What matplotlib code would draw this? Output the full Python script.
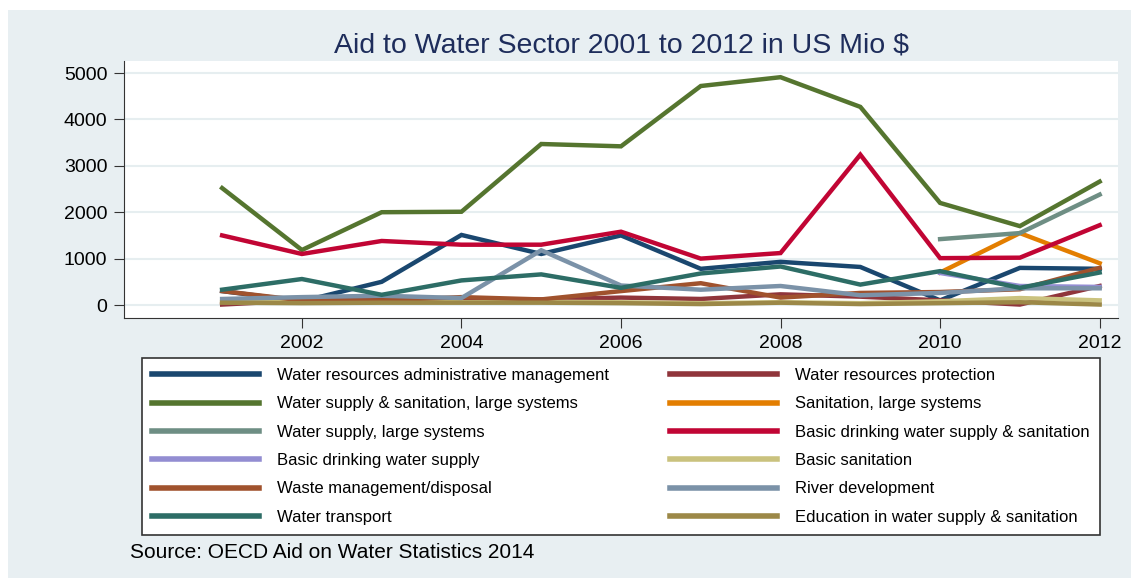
import numpy as np
import matplotlib.pyplot as plt
from matplotlib.patches import Rectangle

plt.rcParams['font.family'] = ['Liberation Sans', 'DejaVu Sans']

years = list(range(2001, 2013))
yrs_late = [2010, 2011, 2012]

# values in US Mio $
wr_admin = [300, 80, 500, 1510, 1100, 1500, 780, 930, 820, 100, 800, 780]
wr_protect = [10, 100, 150, 120, 120, 160, 130, 230, 180, 100, 10, 410]
wss_large = [2520, 1185, 2000, 2010, 3470, 3420, 4720, 4910, 4270, 2200, 1700, 2660]
san_large = [700, 1550, 900]
ws_large = [1420, 1550, 2380]
basic_dwss = [1500, 1100, 1380, 1300, 1300, 1580, 1000, 1120, 3240, 1010, 1020, 1720]
basic_dws = [690, 410, 390]
basic_san = [70, 60, 60, 60, 70, 60, 40, 60, 40, 80, 150, 100]
waste = [300, 100, 100, 170, 120, 300, 470, 160, 260, 280, 340, 800]
river = [130, 170, 200, 150, 1180, 420, 330, 410, 210, 260, 360, 360]
transport = [330, 560, 220, 530, 660, 370, 680, 830, 440, 730, 370, 700]
education = [50, 40, 50, 50, 50, 40, 20, 50, 20, 40, 60, 10]

series = [
    ("Water resources administrative management", years, wr_admin, "#1a476f"),
    ("Water resources protection", years, wr_protect, "#90353b"),
    ("Water supply & sanitation, large systems", years, wss_large, "#55752f"),
    ("Sanitation, large systems", yrs_late, san_large, "#e37e00"),
    ("Water supply, large systems", yrs_late, ws_large, "#6e8e84"),
    ("Basic drinking water supply & sanitation", years, basic_dwss, "#c10534"),
    ("Basic drinking water supply", yrs_late, basic_dws, "#938dd2"),
    ("Basic sanitation", years, basic_san, "#cac27e"),
    ("Waste management/disposal", years, waste, "#a0522d"),
    ("River development", years, river, "#7b92a8"),
    ("Water transport", years, transport, "#2d6d66"),
    ("Education in water supply & sanitation", years, education, "#9c8847"),
]

fig = plt.figure(figsize=(11.38, 5.78), dpi=100)
fig.patch.set_facecolor('white')
fig.patches.append(Rectangle((8/1138, 0), 1123/1138, 568/578, transform=fig.transFigure,
                             facecolor='#e8eff2', edgecolor='none', zorder=-10))

ax = fig.add_axes([124/1138, 1-318/578, 994/1138, 257/578])
ax.set_facecolor('white')
for name, x, y, c in series:
    ax.plot(x, y, color=c, lw=3.2, label=name, solid_joinstyle='miter')

ax.set_xlim(1999.77, 2012.23)
ax.set_ylim(-280, 5259)
ax.set_xticks(range(2002, 2013, 2))
ax.set_yticks(range(0, 5001, 1000))
ax.grid(axis='y', color='#e6eef0', lw=1.5)
ax.set_axisbelow(True)
for s in ['top', 'right']:
    ax.spines[s].set_visible(False)
for s in ['left', 'bottom']:
    ax.spines[s].set_color('#333333')
ax.tick_params(axis='both', labelsize=14, length=7, color='#333333', pad=5)
ax.set_title("Aid to Water Sector 2001 to 2012 in US Mio $", fontsize=20.5,
             color='#1e2d5b', pad=6)

# legend filled row by row like the original
handles, labels = ax.get_legend_handles_labels()
order = list(range(0, 12, 2)) + list(range(1, 12, 2))
leg = fig.legend([handles[i] for i in order], [labels[i] for i in order],
                 ncol=2, mode='expand',
                 bbox_to_anchor=(142/1138, 1-535/578, 958/1138, 177/578),
                 loc='upper left', borderaxespad=0, fontsize=12,
                 handlelength=6.4, handletextpad=1.1, labelspacing=0.8,
                 borderpad=0.6, frameon=True, fancybox=False, framealpha=1)
leg.get_frame().set_edgecolor('#333333')
leg.get_frame().set_facecolor('white')
leg.get_frame().set_linewidth(1.2)
for ln in leg.get_lines():
    ln.set_linewidth(4)

fig.text(130/1138, 1-553/578, "Source: OECD Aid on Water Statistics 2014",
         fontsize=15, va='center', ha='left')

fig.savefig('out.png', dpi=100)
